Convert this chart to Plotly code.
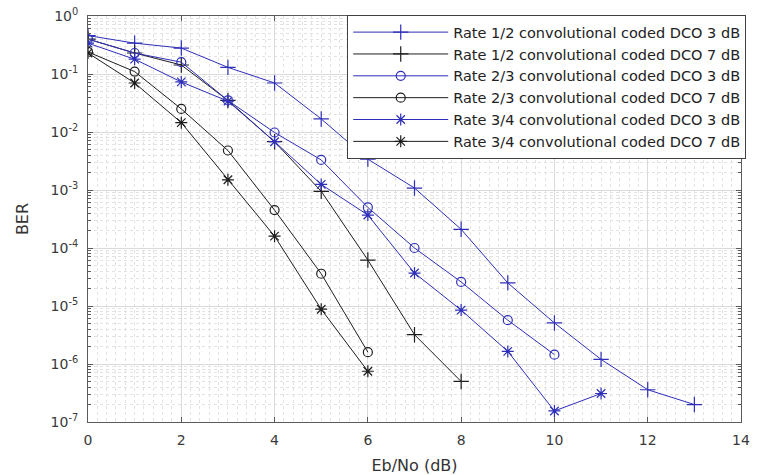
import plotly.graph_objects as go

# ---- data ----
ebno_r12_3 = [0, 1, 2, 3, 4, 5, 6, 7, 8, 9, 10, 11, 12, 13]
ber_r12_3 = [0.46, 0.34, 0.28, 0.13, 0.07, 0.0168, 0.0034, 0.00108, 2.1e-4, 2.5e-5, 5.1e-6, 1.2e-6, 3.6e-7, 2.0e-7]

ebno_r12_7 = [0, 1, 2, 3, 4, 5, 6, 7, 8]
ber_r12_7 = [0.40, 0.23, 0.143, 0.035, 0.0068, 9.5e-4, 6.2e-5, 3.2e-6, 5.0e-7]

ebno_r23_3 = [0, 1, 2, 3, 4, 5, 6, 7, 8, 9, 10]
ber_r23_3 = [0.40, 0.23, 0.16, 0.035, 0.0098, 0.0033, 5.0e-4, 1.0e-4, 2.6e-5, 5.7e-6, 1.45e-6]

ebno_r23_7 = [0, 1, 2, 3, 4, 5, 6]
ber_r23_7 = [0.24, 0.11, 0.025, 0.0048, 4.5e-4, 3.6e-5, 1.6e-6]

ebno_r34_3 = [0, 1, 2, 3, 4, 5, 6, 7, 8, 9, 10, 11]
ber_r34_3 = [0.34, 0.18, 0.073, 0.034, 0.0068, 0.00125, 3.7e-4, 3.7e-5, 8.5e-6, 1.65e-6, 1.55e-7, 3.1e-7]

ebno_r34_7 = [0, 1, 2, 3, 4, 5, 6]
ber_r34_7 = [0.23, 0.07, 0.0145, 0.0015, 1.6e-4, 8.8e-6, 7.5e-7]

series_names = [
    "Rate 1/2 convolutional coded DCO 3 dB",
    "Rate 1/2 convolutional coded DCO 7 dB",
    "Rate 2/3 convolutional coded DCO 3 dB",
    "Rate 2/3 convolutional coded DCO 7 dB",
    "Rate 3/4 convolutional coded DCO 3 dB",
    "Rate 3/4 convolutional coded DCO 7 dB",
]

x_ticks = [0, 2, 4, 6, 8, 10, 12, 14]
y_exponents = [0, -1, -2, -3, -4, -5, -6, -7]

# ---- styling ----
BLUE = "#2e2eb8"
BLACK = "#1e1e1e"

series = [
    (ebno_r12_3, ber_r12_3, BLUE, "cross-thin-open", 11),
    (ebno_r12_7, ber_r12_7, BLACK, "cross-thin-open", 11),
    (ebno_r23_3, ber_r23_3, BLUE, "circle-open", 9),
    (ebno_r23_7, ber_r23_7, BLACK, "circle-open", 9),
    (ebno_r34_3, ber_r34_3, BLUE, "asterisk-open", 10),
    (ebno_r34_7, ber_r34_7, BLACK, "asterisk-open", 10),
]

fig = go.Figure()
for (xs, ys, col, sym, sz), name in zip(series, series_names):
    fig.add_trace(go.Scatter(
        x=xs, y=ys, mode="lines+markers", name=name,
        line=dict(color=col, width=1),
        marker=dict(symbol=sym, size=sz, color=col, line=dict(color=col, width=1.2)),
    ))

y_tickvals = [10.0 ** e for e in y_exponents]
y_ticktext = ["10<sup>%d</sup>" % e for e in y_exponents]
y_minor = [m * 10.0 ** e for e in range(-7, 0) for m in range(2, 10)]

axis_common = dict(
    showline=True, linecolor="#5a5a5a", linewidth=1, mirror="allticks",
    ticks="inside", ticklen=5, tickcolor="#5a5a5a",
    showgrid=True, gridcolor="#dadada", gridwidth=1, zeroline=False,
    automargin=False,
    tickfont=dict(family="DejaVu Sans", size=14, color="#3a3a3a"),
)

fig.update_xaxes(
    **axis_common,
    range=[0, 14], tickmode="array", tickvals=x_ticks,
    ticklabelstandoff=5,
    minor=dict(dtick=0.2, tick0=0, showgrid=True, gridcolor="#e2e2e2", griddash="dot", ticks=""),
    title=dict(text="Eb/No (dB)", font=dict(family="DejaVu Sans", size=16, color="#333"), standoff=17),
)
fig.update_yaxes(
    **axis_common,
    type="log", range=[-7, 0], tickmode="array", tickvals=y_tickvals, ticktext=y_ticktext,
    ticklabelstandoff=6,
    minor=dict(tickmode="array", tickvals=y_minor, showgrid=True, gridcolor="#e2e2e2", griddash="dot",
               ticks="inside", ticklen=3, tickcolor="#5a5a5a"),
    title=dict(text="BER", font=dict(family="DejaVu Sans", size=16, color="#333"), standoff=17),
)

fig.update_layout(
    width=758, height=475,
    margin=dict(l=88, r=12, t=16, b=53),
    paper_bgcolor="white", plot_bgcolor="white",
    font=dict(family="DejaVu Sans", size=13, color="#333"),
    showlegend=True,
    legend=dict(
        x=1.008, y=1.002, xanchor="right", yanchor="top",
        bgcolor="white", bordercolor="#404040", borderwidth=1,
        font=dict(family="DejaVu Sans", size=14.5, color="#222"),
        itemwidth=95, tracegroupgap=0,
    ),
)

fig.write_html("out.html")
